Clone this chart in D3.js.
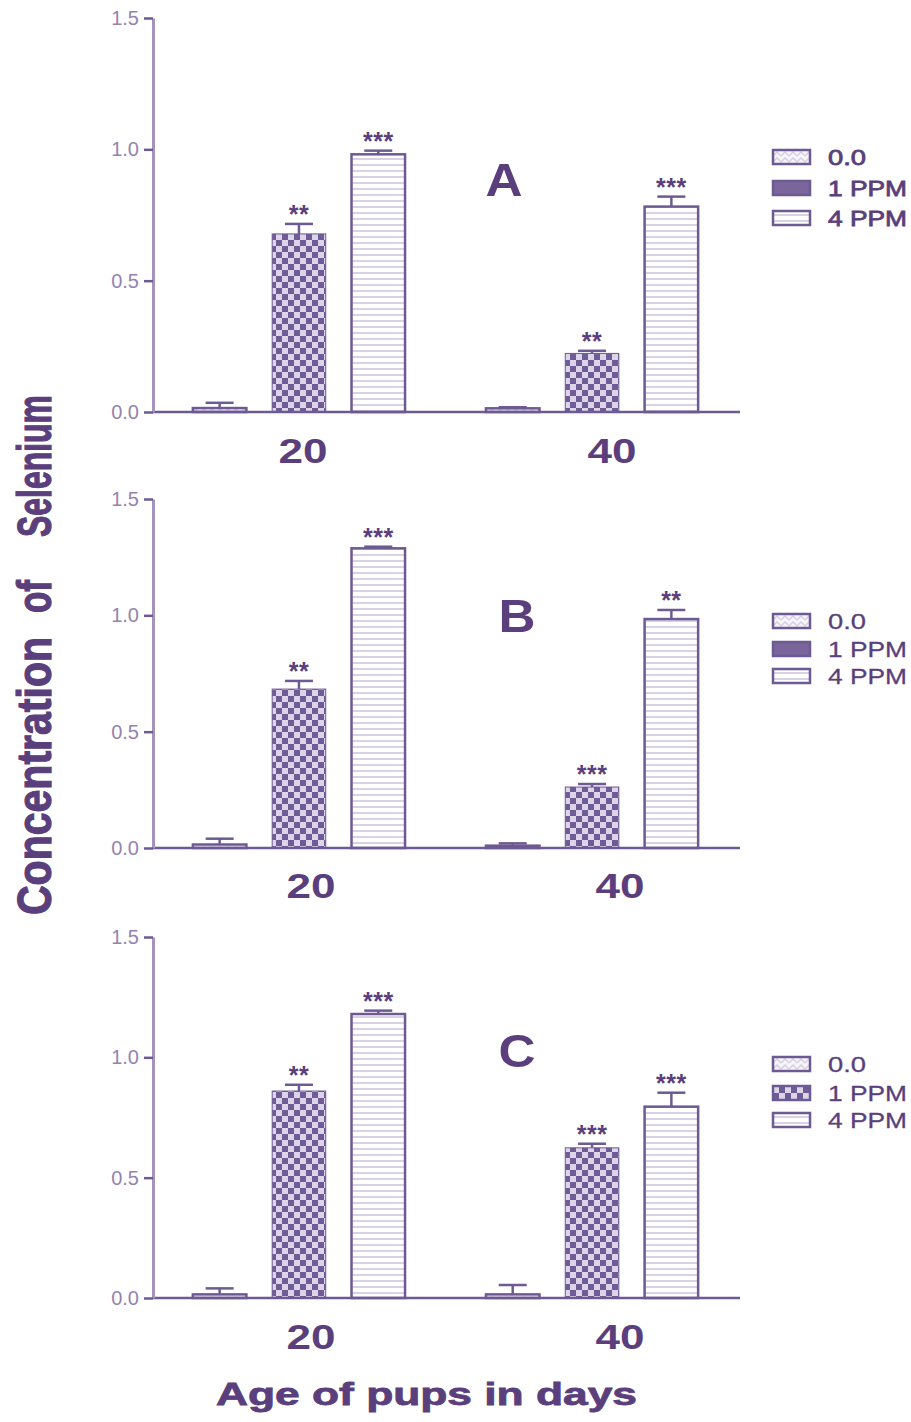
<!DOCTYPE html>
<html>
<head>
<meta charset="utf-8">
<script src="https://cdn.jsdelivr.net/npm/d3@7"></script>
<style>
  body { margin: 0; background: #fff; }
  svg { display: block; font-family: "Liberation Sans", Arial, sans-serif; }
</style>
</head>
<body>
<svg id="chart" width="911" height="1422"></svg>
<script>
const groups = ['20', '40'];
const series = ['0.0', '1 PPM', '4 PPM'];
const tickValues = [0, 0.5, 1.0, 1.5];
const yTitleWords = ['Concentration', 'of', 'Selenium'];

// mean and SEM per age group, order follows `series`
const meanA = [[0.015, 0.678, 0.981], [0.014, 0.223, 0.782]];
const semA = [[0.020, 0.038, 0.014], [0.004, 0.010, 0.038]];
const starsA = [['', '**', '***'], ['', '**', '***']];

const meanB = [[0.015, 0.683, 1.288], [0.010, 0.262, 0.984]];
const semB = [[0.025, 0.035, 0.007], [0.010, 0.013, 0.039]];
const starsB = [['', '**', '***'], ['', '***', '**']];

const meanC = [[0.015, 0.860, 1.180], [0.015, 0.624, 0.795]];
const semC = [[0.025, 0.026, 0.014], [0.039, 0.017, 0.058]];
const starsC = [['', '**', '***'], ['', '***', '***']];

const panels = [
  { label: 'A', mean: meanA, sem: semA, stars: starsA },
  { label: 'B', mean: meanB, sem: semB, stars: starsB },
  { label: 'C', mean: meanC, sem: semC, stars: starsC },
];

// layout per panel (pixels)
const layout = {
  A: { top: 18, bottom: 412, letter: [504, 196], legend: [157, 188, 218], solidLegend: true, labelShift: [4, 20], labelY: 463 },
  B: { top: 499, bottom: 848, letter: [517, 632], legend: [621, 649, 676], solidLegend: true, labelShift: [12, 28], labelY: 898 },
  C: { top: 937, bottom: 1298, letter: [517, 1067], legend: [1064, 1093, 1120], solidLegend: false, labelShift: [12, 28], labelY: 1349 },
};
// y-title words: [start y, end y] along the rotated baseline
const yTitleSpans = [[915, 637], [613, 580], [537, 395]];

const dark = '#5a3f7c';
const barLine = '#6d5a92';
const svg = d3.select('#chart');

// patterns
const defs = svg.append('defs');
const checker = defs.append('pattern').attr('id', 'checker')
  .attr('width', 12).attr('height', 12).attr('patternUnits', 'userSpaceOnUse');
checker.append('rect').attr('width', 12).attr('height', 12).attr('fill', '#dcd4e8');
checker.append('rect').attr('width', 6).attr('height', 6).attr('fill', '#6f5b95');
checker.append('rect').attr('x', 6).attr('y', 6).attr('width', 6).attr('height', 6).attr('fill', '#6f5b95');

const stripes = defs.append('pattern').attr('id', 'stripes')
  .attr('width', 8).attr('height', 6).attr('patternUnits', 'userSpaceOnUse');
stripes.append('rect').attr('width', 8).attr('height', 6).attr('fill', '#fff');
stripes.append('rect').attr('y', 2).attr('width', 8).attr('height', 2).attr('fill', '#d9d1e4');

const speckle = defs.append('pattern').attr('id', 'speckle')
  .attr('width', 8).attr('height', 6).attr('patternUnits', 'userSpaceOnUse');
speckle.append('rect').attr('width', 8).attr('height', 6).attr('fill', '#f7f5fa');
speckle.append('path').attr('d', 'M0,5 L4,1 L8,5').attr('fill', 'none')
  .attr('stroke', '#d6cee3').attr('stroke-width', 1.5);

const fills = ['url(#speckle)', 'url(#checker)', 'url(#stripes)'];

const x0 = d3.scaleBand().domain(groups).range([153, 738])
  .paddingInner(0.276).paddingOuter(0.136);
const x1 = d3.scaleBand().domain(series).range([0, x0.bandwidth()])
  .paddingInner(0.325).paddingOuter(0);

panels.forEach(p => {
  const L = layout[p.label];
  const y = d3.scaleLinear().domain([0, 1.5]).range([L.bottom, L.top]);
  const g = svg.append('g');

  const rows = [];
  groups.forEach((grp, gi) => series.forEach((s, si) => rows.push({
    grp, s, si, mean: p.mean[gi][si], sem: p.sem[gi][si], star: p.stars[gi][si]
  })));

  const bx = d => x0(d.grp) + x1(d.s);

  // bars
  g.selectAll('rect.bar').data(rows).join('rect')
    .attr('class', 'bar')
    .attr('x', bx)
    .attr('y', d => y(d.mean))
    .attr('width', x1.bandwidth())
    .attr('height', d => y(0) - y(d.mean))
    .attr('fill', d => fills[d.si])
    .attr('stroke', barLine)
    .attr('stroke-width', d => d.si === 1 ? 1 : 2.5);

  // error bars
  const cx = d => bx(d) + x1.bandwidth() / 2;
  g.selectAll('line.err').data(rows).join('line')
    .attr('class', 'err')
    .attr('x1', cx).attr('x2', cx)
    .attr('y1', d => y(d.mean)).attr('y2', d => y(d.mean + d.sem))
    .attr('stroke', barLine).attr('stroke-width', 2.5);
  g.selectAll('line.cap').data(rows).join('line')
    .attr('class', 'cap')
    .attr('x1', d => cx(d) - 14).attr('x2', d => cx(d) + 14)
    .attr('y1', d => y(d.mean + d.sem)).attr('y2', d => y(d.mean + d.sem))
    .attr('stroke', barLine).attr('stroke-width', 2.5);

  // significance stars
  g.selectAll('text.star').data(rows.filter(d => d.star)).join('text')
    .attr('class', 'star')
    .attr('x', cx)
    .attr('y', d => y(d.mean + d.sem) - 1)
    .attr('text-anchor', 'middle')
    .attr('font-size', 25).attr('font-weight', 'bold')
    .attr('letter-spacing', 0.5)
    .attr('fill', dark)
    .text(d => d.star);

  // x axis line
  g.append('line')
    .attr('x1', x0.range()[0]).attr('x2', x0.range()[1] + 2)
    .attr('y1', y(0)).attr('y2', y(0))
    .attr('stroke', barLine).attr('stroke-width', 2.5);

  // y axis
  const ax = g.append('g').attr('transform', `translate(${x0.range()[0]},0)`)
    .call(d3.axisLeft(y).tickValues(tickValues).tickFormat(d3.format('.1f'))
      .tickSize(9).tickSizeOuter(0).tickPadding(5));
  ax.select('.domain').attr('stroke', '#a494bd').attr('stroke-width', 3);
  ax.selectAll('.tick line').attr('stroke', barLine).attr('stroke-width', 2.5);
  ax.selectAll('.tick text').attr('fill', '#9483b0').attr('font-size', 20)
    .attr('font-family', '"Liberation Sans", Arial, sans-serif');

  // group labels
  g.selectAll('text.grp').data(groups).join('text')
    .attr('class', 'grp')
    .attr('x', (d, i) => x0(d) + x0.bandwidth() / 2 + L.labelShift[i])
    .attr('y', L.labelY)
    .attr('text-anchor', 'middle')
    .attr('font-size', 35).attr('font-weight', 'bold')
    .attr('textLength', 49).attr('lengthAdjust', 'spacingAndGlyphs')
    .attr('fill', dark)
    .text(d => d);

  // panel letter
  g.append('text')
    .attr('x', L.letter[0]).attr('y', L.letter[1])
    .attr('text-anchor', 'middle')
    .attr('font-size', 46).attr('font-weight', 'bold')
    .attr('textLength', 37).attr('lengthAdjust', 'spacingAndGlyphs')
    .attr('fill', dark)
    .text(p.label);

  // legend
  const lg = g.selectAll('g.leg').data(series).join('g')
    .attr('class', 'leg')
    .attr('transform', (d, i) => `translate(773,${L.legend[i]})`);
  lg.append('rect')
    .attr('x', 0).attr('y', -7).attr('width', 37).attr('height', 14)
    .attr('fill', (d, i) => i === 1 && L.solidLegend ? '#7a669a' : fills[i])
    .attr('stroke', barLine).attr('stroke-width', 2.5);
  lg.append('text')
    .attr('x', 55).attr('y', 8)
    .attr('font-size', 22)
    .attr('stroke', dark).attr('stroke-width', p.label === 'A' ? 0.8 : 0.3)
    .attr('textLength', (d, i) => i === 0 ? 38 : 79).attr('lengthAdjust', 'spacingAndGlyphs')
    .attr('fill', dark)
    .text(d => d);
});

// axis titles
svg.selectAll('text.ytitle').data(yTitleWords).join('text')
  .attr('class', 'ytitle')
  .attr('transform', (d, i) => `translate(51,${yTitleSpans[i][0]}) rotate(-90)`)
  .attr('font-size', 48).attr('font-weight', 'bold')
  .attr('stroke', dark).attr('stroke-width', 1.2)
  .attr('textLength', (d, i) => yTitleSpans[i][0] - yTitleSpans[i][1])
  .attr('lengthAdjust', 'spacingAndGlyphs')
  .attr('fill', dark)
  .text(d => d);

svg.append('text')
  .attr('x', 216).attr('y', 1405)
  .attr('font-size', 31).attr('font-weight', 'bold')
  .attr('stroke', dark).attr('stroke-width', 0.8)
  .attr('textLength', 421).attr('lengthAdjust', 'spacingAndGlyphs')
  .attr('fill', dark)
  .text('Age of pups in days');
</script>
</body>
</html>
